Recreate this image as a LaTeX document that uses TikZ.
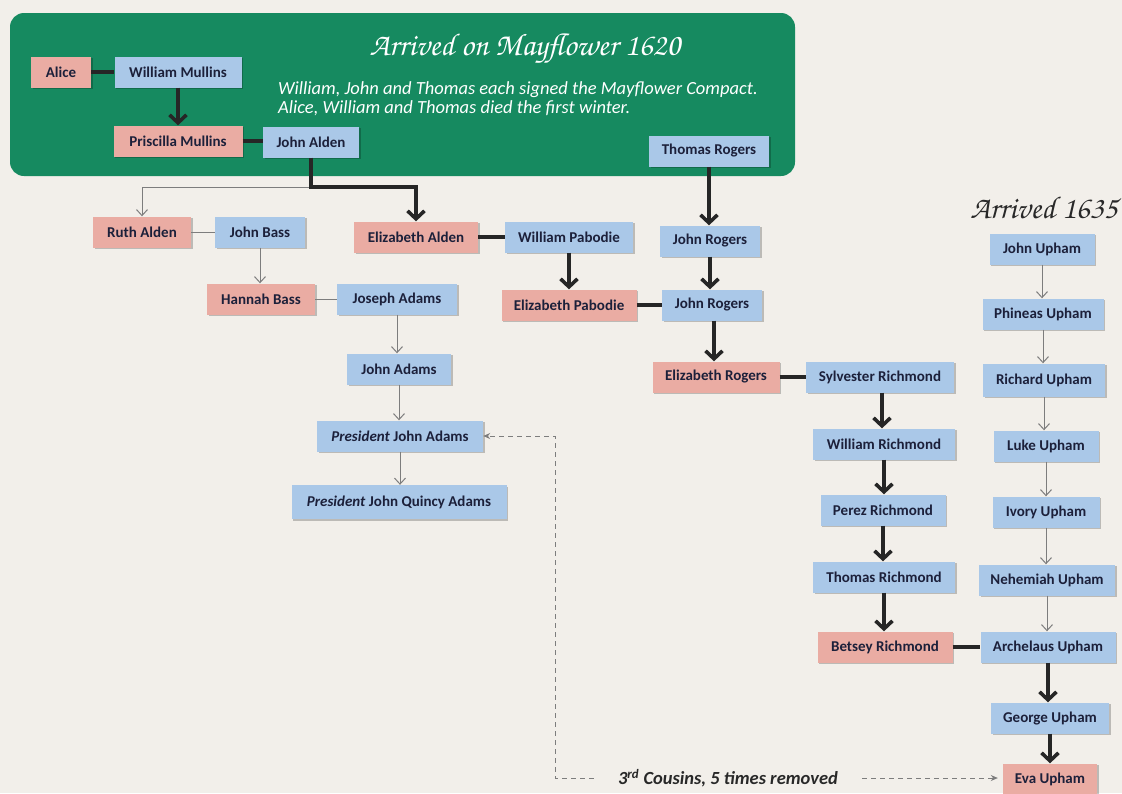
\documentclass[tikz,border=0pt]{standalone}
\usepackage[T1]{fontenc}
\usepackage{fontspec}
\setmainfont{Carlito}
\usetikzlibrary{arrows.meta,shadows,calc}
\newcommand{\chancerytext}{\fontencoding{T1}\fontfamily{pzc}\fontseries{mb}\fontshape{it}\selectfont}
\definecolor{paperbg}{RGB}{242,239,234}
\definecolor{mfgreen}{RGB}{22,138,96}
\definecolor{boxblue}{RGB}{170,200,232}
\definecolor{boxpink}{RGB}{234,172,163}
\definecolor{inktext}{RGB}{28,32,58}
\definecolor{thingray}{RGB}{125,125,125}
\definecolor{darkink}{RGB}{40,40,40}
\tikzset{
  person/.style={rectangle, minimum height=31pt, inner sep=0pt,
    font=\fontsize{15}{17}\selectfont\bfseries, text=inktext,
    drop shadow={shadow xshift=1.5pt,shadow yshift=-1.5pt,fill=black,opacity=0.22}},
  man/.style={person, fill=boxblue},
  woman/.style={person, fill=boxpink},
  descent/.style={line width=3.6pt, draw=black!85, -{Straight Barb[length=8pt,width=17pt]}},
  lineage/.style={line width=1pt, draw=thingray, -{Straight Barb[length=6pt,width=11pt]}},
  couple/.style={line width=3.6pt, draw=black!85},
  thincouple/.style={line width=1pt, draw=thingray},
  cousinlink/.style={line width=1pt, draw=thingray, dash pattern=on 5pt off 4pt},
  cousintip/.style={-{Stealth[length=7pt,width=6pt]}},
  calli/.style={font=\chancerytext\fontsize{31.5}{36}\selectfont},
}
\begin{document}
\begin{tikzpicture}[x=1pt,y=-1pt]
\useasboundingbox (0,0) rectangle (1122,793);
\fill[paperbg] (0,0) rectangle (1122,793);
% green Mayflower panel
\fill[mfgreen, rounded corners=14pt] (10,13) rectangle (795,176);
\node[calli, text=white] (mtitle) at (525,49) {Arrived on Mayflower 1620};
\node[anchor=west, align=left, text=white, inner sep=0pt,
      font=\fontsize{18.5}{19.5}\selectfont\itshape] (mnote) at (278,99)
  {William, John and Thomas each signed the Mayflower Compact.\\Alice, William and Thomas died the first winter.};
\node[calli, text=darkink] (utitle) at (1044,208) {Arrived 1635};

% people
\node[woman, minimum width=60pt]  (alice)     at (61,72)   {Alice};
\node[man,   minimum width=127pt] (wmullins)  at (178,72)  {William Mullins};
\node[woman, minimum width=129pt] (priscilla) at (178,141) {Priscilla Mullins};
\node[man,   minimum width=96pt]  (jalden)    at (311,142) {John Alden};
\node[man,   minimum width=120pt] (trogers)   at (709,151) {Thomas Rogers};

\node[woman, minimum width=98pt]  (ruth)      at (142,232) {Ruth Alden};
\node[man,   minimum width=90pt]  (jbass)     at (260,232) {John Bass};
\node[woman, minimum width=124pt] (ealden)    at (416,237) {Elizabeth Alden};
\node[man,   minimum width=128pt] (wpabodie)  at (569,237) {William Pabodie};
\node[man,   minimum width=100pt] (jrogers1)  at (710,241) {John Rogers};

\node[woman, minimum width=108pt] (hannah)    at (261,299) {Hannah Bass};
\node[man,   minimum width=120pt] (josadams)  at (397,299) {Joseph Adams};
\node[woman, minimum width=135pt] (epabodie)  at (569,305) {Elizabeth Pabodie};
\node[man,   minimum width=100pt] (jrogers2)  at (712,305) {John Rogers};

\node[man,   minimum width=104pt] (johnadams) at (399,369) {John Adams};
\node[woman, minimum width=127pt] (erogers)   at (716,377) {Elizabeth Rogers};
\node[man,   minimum width=148pt] (sylvester) at (880,377) {Sylvester Richmond};

\node[man,   minimum width=166pt] (pja)  at (400,436) {\textit{President} John Adams};
\node[man,   minimum width=215pt, minimum height=34pt] (pjqa) at (399,502) {\textit{President} John Quincy Adams};

\node[man,   minimum width=142pt] (wrichmond) at (884,444) {William Richmond};
\node[man,   minimum width=125pt] (perez)     at (883,510) {Perez Richmond};
\node[man,   minimum width=142pt] (trichmond) at (884,577) {Thomas Richmond};
\node[woman, minimum width=135pt] (betsey)    at (885,647) {Betsey Richmond};

\node[man,   minimum width=105pt] (jupham)    at (1042,249) {John Upham};
\node[man,   minimum width=121pt] (phineas)   at (1043,314) {Phineas Upham};
\node[man,   minimum width=122pt, minimum height=33pt] (richard) at (1044,380) {Richard Upham};
\node[man,   minimum width=105pt] (luke)      at (1046,446) {Luke Upham};
\node[man,   minimum width=107pt] (ivory)     at (1046,512) {Ivory Upham};
\node[man,   minimum width=136pt] (nehemiah)  at (1047,580) {Nehemiah Upham};
\node[man,   minimum width=135pt] (archelaus) at (1048,647) {Archelaus Upham};
\node[man,   minimum width=118pt] (george)    at (1050,718) {George Upham};
\node[woman, minimum width=94pt]  (eva)       at (1050,779) {Eva Upham};

\node[font=\fontsize{18.5}{20}\selectfont\bfseries\itshape, text=darkink,
      inner xsep=24pt, inner ysep=2pt] (cousins) at (728,778)
  {3\textsuperscript{rd} Cousins, 5 times removed};

% couples
\draw[couple] (alice.east) -- (alice.east -| wmullins.west);
\draw[couple] (priscilla.east) -- (priscilla.east -| jalden.west);
\draw[thincouple] (ruth.east) -- (ruth.east -| jbass.west);
\draw[couple] (ealden.east) -- (ealden.east -| wpabodie.west);
\draw[thincouple] (hannah.east) -- (hannah.east -| josadams.west);
\draw[couple] (epabodie.east) -- (epabodie.east -| jrogers2.west);
\draw[couple] (erogers.east) -- (erogers.east -| sylvester.west);
\draw[couple] (betsey.east) -- (betsey.east -| archelaus.west);

% descent lines
\coordinate (split) at (311,187);
\draw[lineage] (split) -| (ruth.north);
\draw[descent] (jalden.south) -- (jalden.south |- split) -| (ealden.north);
\draw[descent] (wmullins.south) -- (wmullins.south |- priscilla.north);
\draw[descent] (trogers.south) -- (trogers.south |- jrogers1.north);
\draw[descent] (jrogers1.south) -- (jrogers1.south |- jrogers2.north);
\draw[descent] (wpabodie.south) -- (wpabodie.south |- epabodie.north);
\draw[descent] ($(jrogers2.south)+(2,0)$) -- ($(jrogers2.south |- erogers.north)+(2,0)$);
\draw[descent] ($(sylvester.south)+(2,0)$) -- ($(sylvester.south |- wrichmond.north)+(2,0)$);
\draw[descent] (wrichmond.south) -- (wrichmond.south |- perez.north);
\draw[descent] (perez.south) -- (perez.south |- trichmond.north);
\draw[descent] (trichmond.south) -- (trichmond.south |- betsey.north);
\draw[descent] (archelaus.south) -- (archelaus.south |- george.north);
\draw[descent] (george.south) -- (george.south |- eva.north);

\draw[lineage] (jbass.south) -- (jbass.south |- hannah.north);
\draw[lineage] (josadams.south) -- (josadams.south |- johnadams.north);
\draw[lineage] (johnadams.south) -- (johnadams.south |- pja.north);
\draw[lineage] (pja.south) -- (pja.south |- pjqa.north);

\draw[lineage] (jupham.south) -- (jupham.south |- phineas.north);
\draw[lineage] (phineas.south) -- (phineas.south |- richard.north);
\draw[lineage] (richard.south) -- (richard.south |- luke.north);
\draw[lineage] (luke.south) -- (luke.south |- ivory.north);
\draw[lineage] (ivory.south) -- (ivory.south |- nehemiah.north);
\draw[lineage] (nehemiah.south) -- (nehemiah.south |- archelaus.north);

% cousin relation
\coordinate (cbend) at (555,436);
\draw[cousinlink, cousintip] (cousins.west) -| (cbend) -- (pja.east);
\draw[cousinlink, cousintip, shorten >=5pt] (cousins.east) -- (cousins.east -| eva.west);
\end{tikzpicture}
\end{document}
